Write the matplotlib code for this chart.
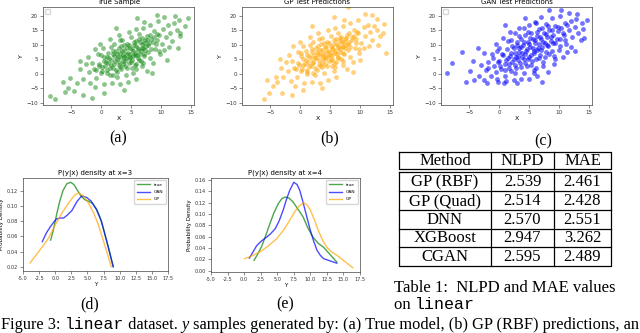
import matplotlib
matplotlib.use("Agg")
import matplotlib.pyplot as plt

# --- scatter clouds, points (x, y) ---
true_x = [0.2, 0.8, 1.0, 1.3, 1.6, 1.9, 2.0, 2.3, 2.5, 2.6, 2.8, 3.0, 3.1, 3.3, 3.4, 3.6, 3.7, 3.9, 4.0, 4.2,
          4.3, 4.5, 4.6, 4.8, 4.9, 5.1, 5.2, 5.3, 5.5, 5.6, 5.8, 5.9, 6.1, 6.2, 6.4, 6.5, 6.7, 6.8, 7.0, 7.2,
          7.3, 7.5, 7.7, 7.8, 8.0, 1.1, 0.4, 0.0, -0.3, 2.1, 3.5, 5.0, 5.4, 6.9, 8.2, 4.1, 2.7, 1.4, 6.3, 8.4,
          -0.8, -1.2, -1.8, -2.1, -2.5, -0.5, -3.0, -1.0, 0.5, 0.3, 1.8, 3.2, -0.2, 1.5, 2.9, 4.6, 5.8, 7.0, 8.8, 9.3,
          9.0, 9.6, 10.1, 10.4, 10.8, 11.2, 11.5, 11.9, 12.2, 12.6, 9.8, 10.5, 8.6, 7.6, 5.9, 4.5, -4.0, -3.6, -2.2, 8.2,
          9.5, 13.2, 13.0, 11.3, 7.2,
          -8.5, -7.7, -6.0, -5.5, -5.2, -4.6, -3.0, -1.5, 0.5, -6.3, -3.5, -1.0, 9.3, 10.5, 14.5, 13.2, 14.0, 12.3, 11.0, 6.0,
          2.5, 12.8, 8.5, 3.8,
          -0.9, -0.4, 0.1, 0.4, 0.7, 0.9, 1.2, 1.4, 1.7, 1.9, 2.1, 2.2, 2.4, 2.6, 2.7, 2.9, 3.0, 3.2, 3.3, 3.5,
          3.6, 3.8, 3.9, 4.0, 4.2, 4.3, 4.4, 4.6, 4.7, 4.9, 5.0, 5.2, 5.3, 5.5, 5.6, 5.7, 5.9, 6.0, 6.2, 6.3,
          6.5, 6.6, 6.8, 6.9, 7.1, 7.2, 7.4, 7.6, 7.9, 8.1, 8.3, 8.6, 8.9, 9.2, 1.0, 2.0, 0.0, 1.6, 3.1, 5.8,
          7.0, 9.4, -1.5, 9.7]
true_y = [2.5, 4.0, 1.5, 5.5, 3.0, 6.8, 2.0, 4.5, 8.0, 0.8, 5.8, 3.2, 7.2, 9.5, 1.8, 4.6, 6.4, 8.4, 2.8, 5.4,
          10.5, 7.3, 3.9, 6.0, 9.0, 1.9, 4.8, 7.8, 11.2, 6.6, 3.5, 9.8, 5.5, 8.2, 12.0, 7.0, 4.4, 10.4, 8.8, 6.2,
          11.6, 9.6, 13.0, 7.6, 10.8, 7.4, 5.8, 0.4, 3.3, 10.2, 11.8, 12.8, 0.5, 2.6, 5.4, -0.3, -1.0, -0.2, 13.8, 12.2,
          -1.5, 1.8, -3.0, 0.6, 3.6, 6.9, -1.8, -4.6, -3.5, 8.8, -3.2, -3.5, 10.5, 12.0, 13.5, 14.6, 15.4, 15.8, 14.8, 11.7,
          8.6, 13.4, 10.2, 15.6, 12.6, 16.8, 14.0, 11.3, 17.5, 15.1, 6.8, 8.3, 3.8, 1.0, -1.6, -2.6, -3.2, 1.6, 5.8, 17.0,
          18.1, 13.0, 18.6, 9.4, 18.0,
          -7.6, -8.6, -6.2, -4.9, -1.4, -6.0, -7.4, -8.2, -6.5, -2.8, 4.5, 8.6, 20.3, 19.7, 19.3, 14.2, 16.5, 20.0, 4.8, 19.2,
          16.0, 9.0, 0.2, -5.5,
          1.2, 2.6, 1.1, 4.4, 2.9, 5.9, 3.7, 2.2, 4.9, 7.9, 3.4, 6.1, 1.3, 5.0, 7.0, 9.1, 4.2, 2.3, 6.0, 7.8,
          3.3, 5.7, 10.1, 4.6, 6.9, 8.8, 2.0, 5.6, 10.0, 7.0, 4.3, 8.5, 6.1, 9.9, 3.1, 7.4, 11.4, 6.4, 9.1, 4.8,
          10.9, 7.9, 12.3, 9.0, 6.8, 10.6, 8.2, 11.8, 9.9, 13.6, 8.6, 11.0, 12.6, 10.2, 0.2, -0.4, 6.6, 9.4, 11.6, 1.8,
          3.9, 13.8, 3.8, 8.0]

gp_x = [0.4, 0.9, 1.2, 1.5, 1.8, 2.0, 2.2, 2.4, 2.6, 2.8, 3.0, 3.2, 3.3, 3.5, 3.6, 3.8, 3.9, 4.1, 4.2, 4.4,
        4.5, 4.7, 4.8, 5.0, 5.1, 5.3, 5.4, 5.5, 5.7, 5.8, 6.0, 6.1, 6.3, 6.4, 6.6, 6.7, 6.9, 7.0, 7.2, 7.4,
        7.5, 7.7, 7.9, 8.0, 8.2, 1.0, 0.2, 0.1, -0.4, 2.2, 3.6, 5.2, 5.6, 7.1, 8.4, 4.0, 2.5, 1.2, 6.4, 8.6,
        -0.6, -1.0, -1.6, -2.0, -2.3, -0.4, -2.8, -0.8, 0.6, 0.4, 1.9, 3.3, 0.0, 1.6, 3.0, 4.7, 5.9, 7.2, 9.0, 9.4,
        9.1, 9.7, 10.2, 10.6, 10.9, 11.3, 11.6, 12.0, 12.4, 12.8, 9.9, 10.6, 8.8, 7.8, 6.0, 4.6, -3.8, -3.2, -1.8, 8.3,
        9.6, 13.4, 12.8, 11.5, 7.4,
        -6.0, -5.2, -4.6, -4.0, -5.5, -3.0, -1.4, 0.4, -3.3, -1.2, 8.0, 10.8, 13.8, 14.3, 14.0, 12.0, 10.0, 5.6, 2.0, 13.0,
        8.8, 3.6,
        -0.7, -0.2, 0.3, 0.5, 0.8, 1.1, 1.3, 1.5, 1.8, 2.0, 2.2, 2.3, 2.5, 2.7, 2.8, 3.0, 3.1, 3.3, 3.4, 3.6,
        3.7, 3.9, 4.0, 4.1, 4.3, 4.4, 4.5, 4.7, 4.8, 5.0, 5.1, 5.3, 5.4, 5.6, 5.7, 5.8, 6.0, 6.1, 6.3, 6.4,
        6.6, 6.7, 6.9, 7.0, 7.2, 7.3, 7.5, 7.7, 8.0, 8.2, 8.4, 8.7, 9.0, 9.3, 1.1, 2.1, 0.1, 1.7, 3.2, 5.9,
        7.1, 9.5, -1.3, 9.8]
gp_y = [3.0, 4.8, 1.2, 6.2, 2.6, 7.6, 4.0, 5.4, 9.0, 1.5, 6.8, 3.6, 8.2, 10.2, 2.4, 5.2, 7.0, 9.2, 3.3, 6.0,
        11.0, 7.9, 4.5, 6.6, 9.6, 2.6, 5.3, 8.5, 11.8, 7.2, 4.0, 10.3, 6.0, 8.9, 12.5, 7.5, 5.0, 11.0, 9.3, 6.8,
        12.2, 10.0, 13.4, 8.2, 11.2, 8.0, 6.3, 0.9, 3.8, 11.0, 12.4, 13.2, 1.0, 3.2, 6.0, 0.2, -0.5, 0.0, 14.2, 12.8,
        -1.0, 2.2, -2.4, 1.0, 4.2, 7.5, -1.2, -4.0, -3.0, 9.6, -2.8, -3.0, 11.2, 12.8, 14.2, 15.3, 16.0, 16.4, 15.3, 12.2,
        9.0, 14.0, 10.8, 16.2, 13.2, 17.0, 14.5, 11.8, 16.5, 15.0, 7.2, 8.8, 4.2, 1.6, -1.0, -2.0, -2.6, 2.0, 6.4, 17.6,
        18.6, 13.2, 18.8, 9.8, 18.6,
        -8.6, -6.4, -4.2, -1.0, -2.2, -6.4, -7.3, -5.6, 5.0, 9.6, 23.0, 20.8, 14.0, 7.3, 17.2, 20.5, 4.8, 19.8, 16.6, 10.0,
        0.8, -5.0,
        1.6, 3.2, 1.6, 5.0, 3.4, 6.5, 4.2, 2.6, 5.5, 8.6, 3.9, 6.7, 1.9, 5.6, 7.6, 9.8, 4.8, 2.9, 6.6, 8.4,
        3.9, 6.3, 10.8, 5.2, 7.5, 9.4, 2.6, 6.2, 10.6, 7.6, 4.9, 9.1, 6.7, 10.5, 3.7, 8.0, 12.0, 7.0, 9.7, 5.4,
        11.5, 8.5, 12.9, 9.6, 7.4, 11.2, 8.8, 12.4, 10.5, 14.2, 9.2, 11.6, 13.2, 10.8, 0.8, 0.2, 7.2, 10.0, 12.2, 2.4,
        4.5, 14.4, 4.4, 8.6]

gan_x = [1.0, 1.4, 1.6, 1.9, 2.2, 2.4, 2.6, 2.8, 3.0, 3.2, 3.4, 3.6, 3.7, 3.9, 4.1, 4.3, 4.4, 4.6, 4.8, 5.0,
         5.1, 5.3, 5.4, 5.6, 5.8, 6.0, 6.1, 6.3, 6.4, 6.6, 6.8, 7.0, 7.1, 7.3, 7.5, 7.6, 7.8, 8.0, 8.2, 8.4,
         8.6, 8.8, 9.0, 0.6, 0.3, 0.0, -0.4, 2.0, 3.4, 4.9, 5.8, 7.4, 9.2, 4.2, 2.6, 1.0, 6.6, 9.4, 9.8, 10.2,
         -0.4, -0.8, -1.4, -1.8, -2.2, -1.2, -2.6, -0.2, 1.2, -0.6, 2.4, 3.6, 0.6, 1.8, 3.4, 5.0, 6.2, 7.8, 9.4, 10.4,
         10.0, 10.8, 11.2, 11.0, 11.6, 12.0, 12.2, 12.6, 12.8, 13.2, 10.6, 11.4, 9.2, 8.2, 6.4, 5.0, -3.4, -3.0, -2.6, 8.8,
         10.2, 13.6, 13.8, 12.0, 7.0,
         -8.7, -7.8, -6.2, -5.5, -4.8, -4.2, -4.4, -3.6, -2.0, 0.8, 10.3, 11.6, 14.2, 14.0, 13.0, 12.6, 8.4, 4.4, 1.0, 7.2,
         3.0, 14.6,
         -0.6, -0.2, 0.2, 0.5, 0.9, 1.1, 1.3, 1.6, 1.8, 2.0, 2.2, 2.4, 2.6, 2.8, 3.0, 3.1, 3.3, 3.5, 3.7, 3.9,
         4.0, 4.2, 4.4, 4.5, 4.7, 4.9, 5.0, 5.2, 5.4, 5.5, 5.7, 5.9, 6.0, 6.2, 6.4, 6.5, 6.7, 6.9, 7.0, 7.2,
         7.4, 7.6, 7.8, 8.0, 8.2, 8.4, 8.6, 8.8, 9.0, 9.3, 9.6, 9.9, 10.2, 10.6, 11.0, -1.0, 0.0, 1.4, 2.6, 4.2,
         6.0, 11.4, -1.8, 5.8]
gan_y = [3.5, 5.5, 2.0, 7.2, 4.2, 8.8, 3.0, 6.0, 10.0, 4.8, 7.6, 2.4, 9.2, 5.8, 11.2, 3.8, 7.0, 8.6, 5.2, 10.4,
         12.4, 6.6, 3.2, 9.0, 7.8, 11.6, 5.0, 13.2, 8.4, 10.2, 6.4, 12.0, 9.2, 4.2, 14.0, 10.8, 7.6, 12.8, 9.6, 15.0,
         11.4, 8.0, 13.6, 6.4, 1.8, 4.6, 8.0, 11.6, 13.0, 14.6, 1.2, 2.6, 6.2, 0.4, 0.2, -0.6, 15.4, 10.6, 14.8, 12.0,
         -1.6, 2.6, -0.6, 4.0, 1.2, 6.8, -2.2, -2.8, -2.4, 10.2, -2.0, -1.6, 12.4, 14.4, 15.8, 16.8, 17.6, 17.2, 16.6, 15.8,
         8.4, 13.4, 10.2, 17.6, 15.0, 18.4, 12.6, 16.2, 19.0, 14.2, 5.8, 7.6, 3.4, 0.8, -0.8, -1.8, -0.8, 3.0, 7.2, 19.4,
         20.0, 11.8, 17.6, 9.2, 19.6,
         0.3, 3.8, 7.6, -2.8, 1.0, -2.2, 4.6, 9.0, -3.0, -3.2, 22.0, 21.0, 12.4, 15.6, 20.6, 8.0, 22.0, 19.4, 17.0, -2.6,
         -3.0, 18.6,
         0.8, 4.2, 2.6, 6.8, 1.4, 4.9, 8.6, 3.4, 6.2, 0.9, 9.6, 5.3, 7.4, 2.1, 11.0, 6.3, 8.9, 3.9, 12.2, 7.1,
         10.0, 5.0, 13.4, 8.0, 2.9, 11.2, 6.0, 9.4, 14.2, 4.4, 12.2, 7.2, 10.6, 2.2, 14.6, 9.0, 5.6, 12.8, 8.2, 16.0,
         11.0, 6.0, 13.8, 10.0, 16.6, 7.0, 12.6, 15.2, 10.6, 5.0, 12.2, 16.2, 9.6, 14.0, 11.6, 5.6, 9.0, 11.4, 14.0, 16.0,
         18.0, 17.0, 2.0, 0.2]

# --- P(y|x) density curves ---
d3_true_x = [-0.7, -0.3, 0.2, 0.7, 1.2, 1.8, 2.4, 2.9, 3.4, 4.0, 4.6, 5.2, 5.8, 6.4, 7.0, 7.6, 8.3, 9.0]
d3_true_y = [0.055, 0.068, 0.088, 0.106, 0.120, 0.129, 0.131, 0.128, 0.121, 0.113, 0.108, 0.106, 0.103, 0.096,
             0.084, 0.066, 0.044, 0.020]
d3_gan_x = [-2.0, -1.4, -0.8, -0.2, 0.25, 0.8, 1.3, 1.9, 2.6, 3.4, 4.1, 4.9, 5.6, 6.4, 7.2, 8.1, 9.0]
d3_gan_y = [0.053, 0.064, 0.072, 0.079, 0.083, 0.084, 0.084, 0.088, 0.094, 0.106, 0.113, 0.111, 0.106, 0.095,
            0.079, 0.050, 0.020]
d3_gp_x = [-3.9, -2.1, -1.0, 0.0, 1.0, 2.1, 3.0, 3.6, 4.4, 5.2, 6.0, 6.7, 7.7, 8.7]
d3_gp_y = [0.025, 0.045, 0.058, 0.075, 0.090, 0.104, 0.114, 0.117, 0.113, 0.103, 0.090, 0.075, 0.048, 0.020]

d4_true_x = [1.5, 2.1, 2.7, 3.3, 3.9, 4.5, 5.2, 5.7, 6.2, 6.8, 7.4, 8.1, 8.9, 9.6, 10.4, 11.2, 12.0, 13.0, 14.0]
d4_true_y = [0.018, 0.030, 0.044, 0.063, 0.083, 0.102, 0.119, 0.127, 0.130, 0.128, 0.121, 0.109, 0.095, 0.076,
             0.059, 0.048, 0.041, 0.028, 0.015]
d4_gan_x = [0.8, 1.9, 2.6, 3.4, 4.0, 4.7, 5.3, 5.9, 6.4, 6.9, 7.5, 8.0, 8.4, 8.8, 9.2, 9.6, 10.0, 10.5, 11.0,
            11.5, 12.0, 13.0, 14.0]
d4_gan_y = [0.022, 0.044, 0.052, 0.059, 0.065, 0.074, 0.088, 0.107, 0.126, 0.142, 0.156, 0.152, 0.142, 0.125,
            0.107, 0.089, 0.071, 0.052, 0.036, 0.027, 0.021, 0.017, 0.013]
d4_gp_x = [0.1, 1.2, 2.4, 3.6, 4.9, 6.0, 6.9, 7.6, 8.2, 9.0, 9.5, 10.0, 10.6, 11.2, 11.8, 12.5, 13.2, 14.0, 15.2,
           16.4]
d4_gp_y = [0.021, 0.026, 0.033, 0.043, 0.056, 0.072, 0.089, 0.103, 0.113, 0.120, 0.116, 0.107, 0.090, 0.071,
           0.055, 0.041, 0.033, 0.027, 0.016, 0.005]

# --- table ---
methods = ["GP (RBF)", "GP (Quad)", "DNN", "XGBoost", "CGAN"]
nlpd = ["2.539", "2.514", "2.570", "2.947", "2.595"]
mae = ["2.461", "2.428", "2.551", "3.262", "2.489"]

W, H = 640, 333
SERIF = "Liberation Serif"
MONO = "Liberation Mono"
fig = plt.figure(figsize=(W / 100, H / 100), dpi=100)


def px_axes(l, t, r, b):
    return fig.add_axes([l / W, 1 - b / H, (r - l) / W, (b - t) / H])


def style(ax, fs):
    ax.tick_params(labelsize=fs, length=2, width=0.4, pad=1.5, colors="#333333")
    for s in ax.spines.values():
        s.set_linewidth(0.5)
        s.set_color("#444444")


scatters = [
    ((43, 7, 194, 105), true_x, true_y, "green", 0.45, "True Sample", True),
    ((242, 7, 393, 105), gp_x, gp_y, "orange", 0.5, "GP Test Predictions", False),
    ((441, 7, 592, 105), gan_x, gan_y, "blue", 0.55, "GAN Test Predictions", True),
]
for box, xs, ys, col, al, title, empty_leg in scatters:
    ax = px_axes(*box)
    ax.scatter(xs, ys, s=12, color=col, alpha=al, linewidths=0)
    ax.set_xlim(-9.7, 15.5)
    ax.set_ylim(-10.7, 23.1)
    ax.set_xticks([-5, 0, 5, 10, 15])
    ax.set_yticks([-10, -5, 0, 5, 10, 15, 20])
    ax.set_title(title, fontsize=5, pad=2)
    ax.set_xlabel("X", fontsize=4.5, labelpad=1)
    ax.set_ylabel("Y", fontsize=4.5, labelpad=2)
    style(ax, 4)
    if empty_leg:
        ax.legend(handles=[], loc="upper left", fontsize=3, borderpad=0.6)

densities = [
    ((23, 178, 168, 271), "P(y|x) density at x=3", (0.0144, 0.1366),
     [0.02, 0.04, 0.06, 0.08, 0.10, 0.12],
     [(d3_true_x, d3_true_y), (d3_gan_x, d3_gan_y), (d3_gp_x, d3_gp_y)]),
    ((211, 178, 360, 272), "P(y|x) density at x=4", (-0.0026, 0.1636),
     [0.00, 0.02, 0.04, 0.06, 0.08, 0.10, 0.12, 0.14, 0.16],
     [(d4_true_x, d4_true_y), (d4_gan_x, d4_gan_y), (d4_gp_x, d4_gp_y)]),
]
for box, title, ylim, yticks, curves in densities:
    ax = px_axes(*box)
    for (cx, cy), col, lab in zip(curves, ["green", "blue", "orange"], ["true", "GAN", "GP"]):
        ax.plot(cx, cy, color=col, lw=1.0, alpha=0.7, label=lab)
    ax.set_xlim(-5, 17.5)
    ax.set_ylim(*ylim)
    ax.set_xticks([-5, -2.5, 0, 2.5, 5, 7.5, 10, 12.5, 15, 17.5])
    ax.set_xticklabels([f"{v:.1f}" for v in ax.get_xticks()])
    ax.set_yticks(yticks)
    ax.set_yticklabels([f"{v:.2f}" for v in yticks])
    ax.set_title(title, fontsize=5, pad=2)
    ax.set_xlabel("Y", fontsize=4, labelpad=1)
    ax.set_ylabel("Probability Density", fontsize=4, labelpad=2)
    style(ax, 3.6)
    ax.legend(loc="upper right", fontsize=3.2, handlelength=3, borderpad=0.6, labelspacing=0.7)

# overlay in pixel coordinates for table and captions
ov = fig.add_axes([0, 0, 1, 1])
ov.set_xlim(0, W)
ov.set_ylim(H, 0)
ov.axis("off")

for lab, x, y in [("(a)", 118, 138), ("(b)", 330, 138), ("(c)", 543, 141), ("(d)", 90, 304), ("(e)", 285, 304)]:
    ov.text(x, y, lab, family=SERIF, fontsize=11.5, ha="center", va="center")

# table frame
L, C1, C2, R = 399, 491, 554, 611
lw = 0.9
ov.plot([L, R, R, L, L], [152, 152, 169, 169, 152], color="black", lw=lw)
ov.plot([L, R, R, L, L], [172, 172, 266, 266, 172], color="black", lw=lw)
for cx in (C1, C2):
    ov.plot([cx, cx], [152, 169], color="black", lw=lw)
    ov.plot([cx, cx], [172, 266], color="black", lw=lw)
row_edges = [172, 191, 210, 228.5, 247, 266]
for ry in row_edges[1:-1]:
    ov.plot([L, R], [ry, ry], color="black", lw=lw)
cols = [(L + C1) / 2, (C1 + C2) / 2, (C2 + R) / 2]
tfs = 12
for cx, lab in zip(cols, ["Method", "NLPD", "MAE"]):
    ov.text(cx, 161, lab, family=SERIF, fontsize=tfs, ha="center", va="center")
for i, (m, n, a) in enumerate(zip(methods, nlpd, mae)):
    yc = (row_edges[i] + row_edges[i + 1]) / 2 + 0.5
    for cx, lab in zip(cols, [m, n, a]):
        ov.text(cx, yc, lab, family=SERIF, fontsize=tfs, ha="center", va="center")

fig.canvas.draw()
renderer = fig.canvas.get_renderer()


def run_text(x, y, pieces, fs):
    for s, kw in pieces:
        t = ov.text(x, y, s, fontsize=fs, ha="left", va="baseline", **kw)
        bb = t.get_window_extent(renderer)
        x += bb.width
    return x


ov.text(394, 292, "Table 1:  NLPD and MAE values", family=SERIF, fontsize=12, ha="left", va="baseline")
run_text(394, 309, [("on ", dict(family=SERIF)), ("linear", dict(family=MONO))], 12)

run_text(1, 329, [
    ("Figure 3: ", dict(family=SERIF)),
    ("linear", dict(family=MONO)),
    (" dataset. ", dict(family=SERIF)),
    ("y", dict(family=SERIF, style="italic")),
    (" samples generated by: (a) True model, (b) GP (RBF) predictions, an", dict(family=SERIF)),
], 11.8)

fig.savefig("out.png", dpi=100)
